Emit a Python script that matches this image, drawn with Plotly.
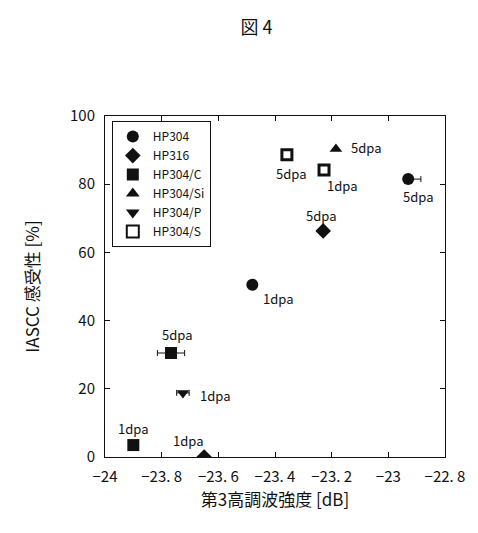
import plotly.graph_objects as go

# ---- data ----
series_names = ["HP304", "HP316", "HP304/C", "HP304/Si", "HP304/P", "HP304/S"]

hp304_x = [-23.48, -22.93]
hp304_y = [50.5, 81.5]
hp304_lbl = ["1dpa", "5dpa"]
hp304_err_plus = [0.0, 0.045]
hp304_err_minus = [0.0, 0.01]

hp316_x = [-23.65, -23.23]
hp316_y = [0.0, 66.3]
hp316_lbl = ["1dpa", "5dpa"]

hpc_x = [-23.90, -23.767]
hpc_y = [3.5, 30.5]
hpc_lbl = ["1dpa", "5dpa"]
hpc_err = [0.0, 0.048]

hpsi_x = [-23.185]
hpsi_y = [90.3]
hpsi_lbl = ["5dpa"]

hpp_x = [-23.725]
hpp_y = [18.8]
hpp_lbl = ["1dpa"]
hpp_err = [0.022]

hps_x = [-23.358, -23.227]
hps_y = [88.6, 84.2]
hps_lbl = ["5dpa", "1dpa"]

x_tickvals = [-24, -23.8, -23.6, -23.4, -23.2, -23, -22.8]
x_ticktext = ["\u221224", "\u221223. 8", "\u221223. 6", "\u221223. 4", "\u221223. 2", "\u221223", "\u221222. 8"]
y_tickvals = [0, 20, 40, 60, 80, 100]

# ---- styling ----
FONT = "Noto Sans CJK JP"
BLACK = "#111111"

fig = go.Figure()

def add_series(name, xs, ys, symbol, size, err=None, err_minus=None, open_=False):
    marker = dict(symbol=symbol, size=size, color=BLACK)
    if open_:
        marker = dict(symbol=symbol, size=size, color="white", line=dict(color=BLACK, width=3))
    kw = {}
    if err is not None:
        ed = dict(type="data", array=err, color=BLACK, thickness=1, width=3, visible=True)
        if err_minus is not None:
            ed["symmetric"] = False
            ed["arrayminus"] = err_minus
        kw["error_x"] = ed
    fig.add_trace(go.Scatter(x=xs, y=ys, mode="markers", name=name, marker=marker, **kw))

add_series(series_names[0], hp304_x, hp304_y, "circle", 12, hp304_err_plus, hp304_err_minus)
add_series(series_names[1], hp316_x, hp316_y, "diamond", 12)
add_series(series_names[2], hpc_x, hpc_y, "square", 12, hpc_err)
add_series(series_names[3], hpsi_x, hpsi_y, "triangle-up", 11)
add_series(series_names[4], hpp_x, hpp_y, "triangle-down", 11, hpp_err)
add_series(series_names[5], hps_x, hps_y, "square", 10, open_=True)

# label offsets (pixels): (xshift, yshift)
label_offsets = {
    ("HP304", 0): (26, -14), ("HP304", 1): (10, -17),
    ("HP316", 0): (-16, 17), ("HP316", 1): (-2, 15),
    ("HP304/C", 0): (0, 17), ("HP304/C", 1): (6, 19),
    ("HP304/Si", 0): (30, 2),
    ("HP304/P", 0): (32, -3),
    ("HP304/S", 0): (4, -19), ("HP304/S", 1): (18, -16),
}
all_series = [
    ("HP304", hp304_x, hp304_y, hp304_lbl),
    ("HP316", hp316_x, hp316_y, hp316_lbl),
    ("HP304/C", hpc_x, hpc_y, hpc_lbl),
    ("HP304/Si", hpsi_x, hpsi_y, hpsi_lbl),
    ("HP304/P", hpp_x, hpp_y, hpp_lbl),
    ("HP304/S", hps_x, hps_y, hps_lbl),
]
for name, xs, ys, lbls in all_series:
    for i, (xv, yv, t) in enumerate(zip(xs, ys, lbls)):
        dx, dy = label_offsets[(name, i)]
        fig.add_annotation(x=xv, y=yv, text=t, showarrow=False, xshift=dx, yshift=dy,
                           font=dict(family=FONT, size=13, color=BLACK))

axis_common = dict(showline=True, linecolor=BLACK, linewidth=1, mirror="ticks",
                   ticks="inside", ticklen=5, tickcolor=BLACK, showgrid=False, zeroline=False,
                   tickfont=dict(family=FONT, size=15, color=BLACK))

fig.update_xaxes(range=[-24, -22.8], tickvals=x_tickvals, ticktext=x_ticktext,
                 ticklabelstandoff=6,
                 title=dict(text="第3高調波強度 [dB]", font=dict(family=FONT, size=17, color=BLACK), standoff=8),
                 **axis_common)
fig.update_yaxes(range=[0, 100], tickvals=y_tickvals, ticklabelstandoff=6,
                 title=dict(text="IASCC 感受性 [%]", font=dict(family=FONT, size=17, color=BLACK), standoff=26),
                 **axis_common)

fig.update_layout(
    width=478, height=533,
    margin=dict(l=97, r=41, t=108, b=84),
    paper_bgcolor="white", plot_bgcolor="white",
    title=dict(text="図 4", x=0.52, xanchor="center", y=0.963, yanchor="middle",
               font=dict(family=FONT, size=18, color=BLACK)),
    legend=dict(x=0.02, y=0.985, xanchor="left", yanchor="top", bordercolor=BLACK, borderwidth=1,
                bgcolor="white", font=dict(family=FONT, size=12, color=BLACK),
                itemsizing="constant", tracegroupgap=0),
    showlegend=True,
)

fig.write_html("out.html")
